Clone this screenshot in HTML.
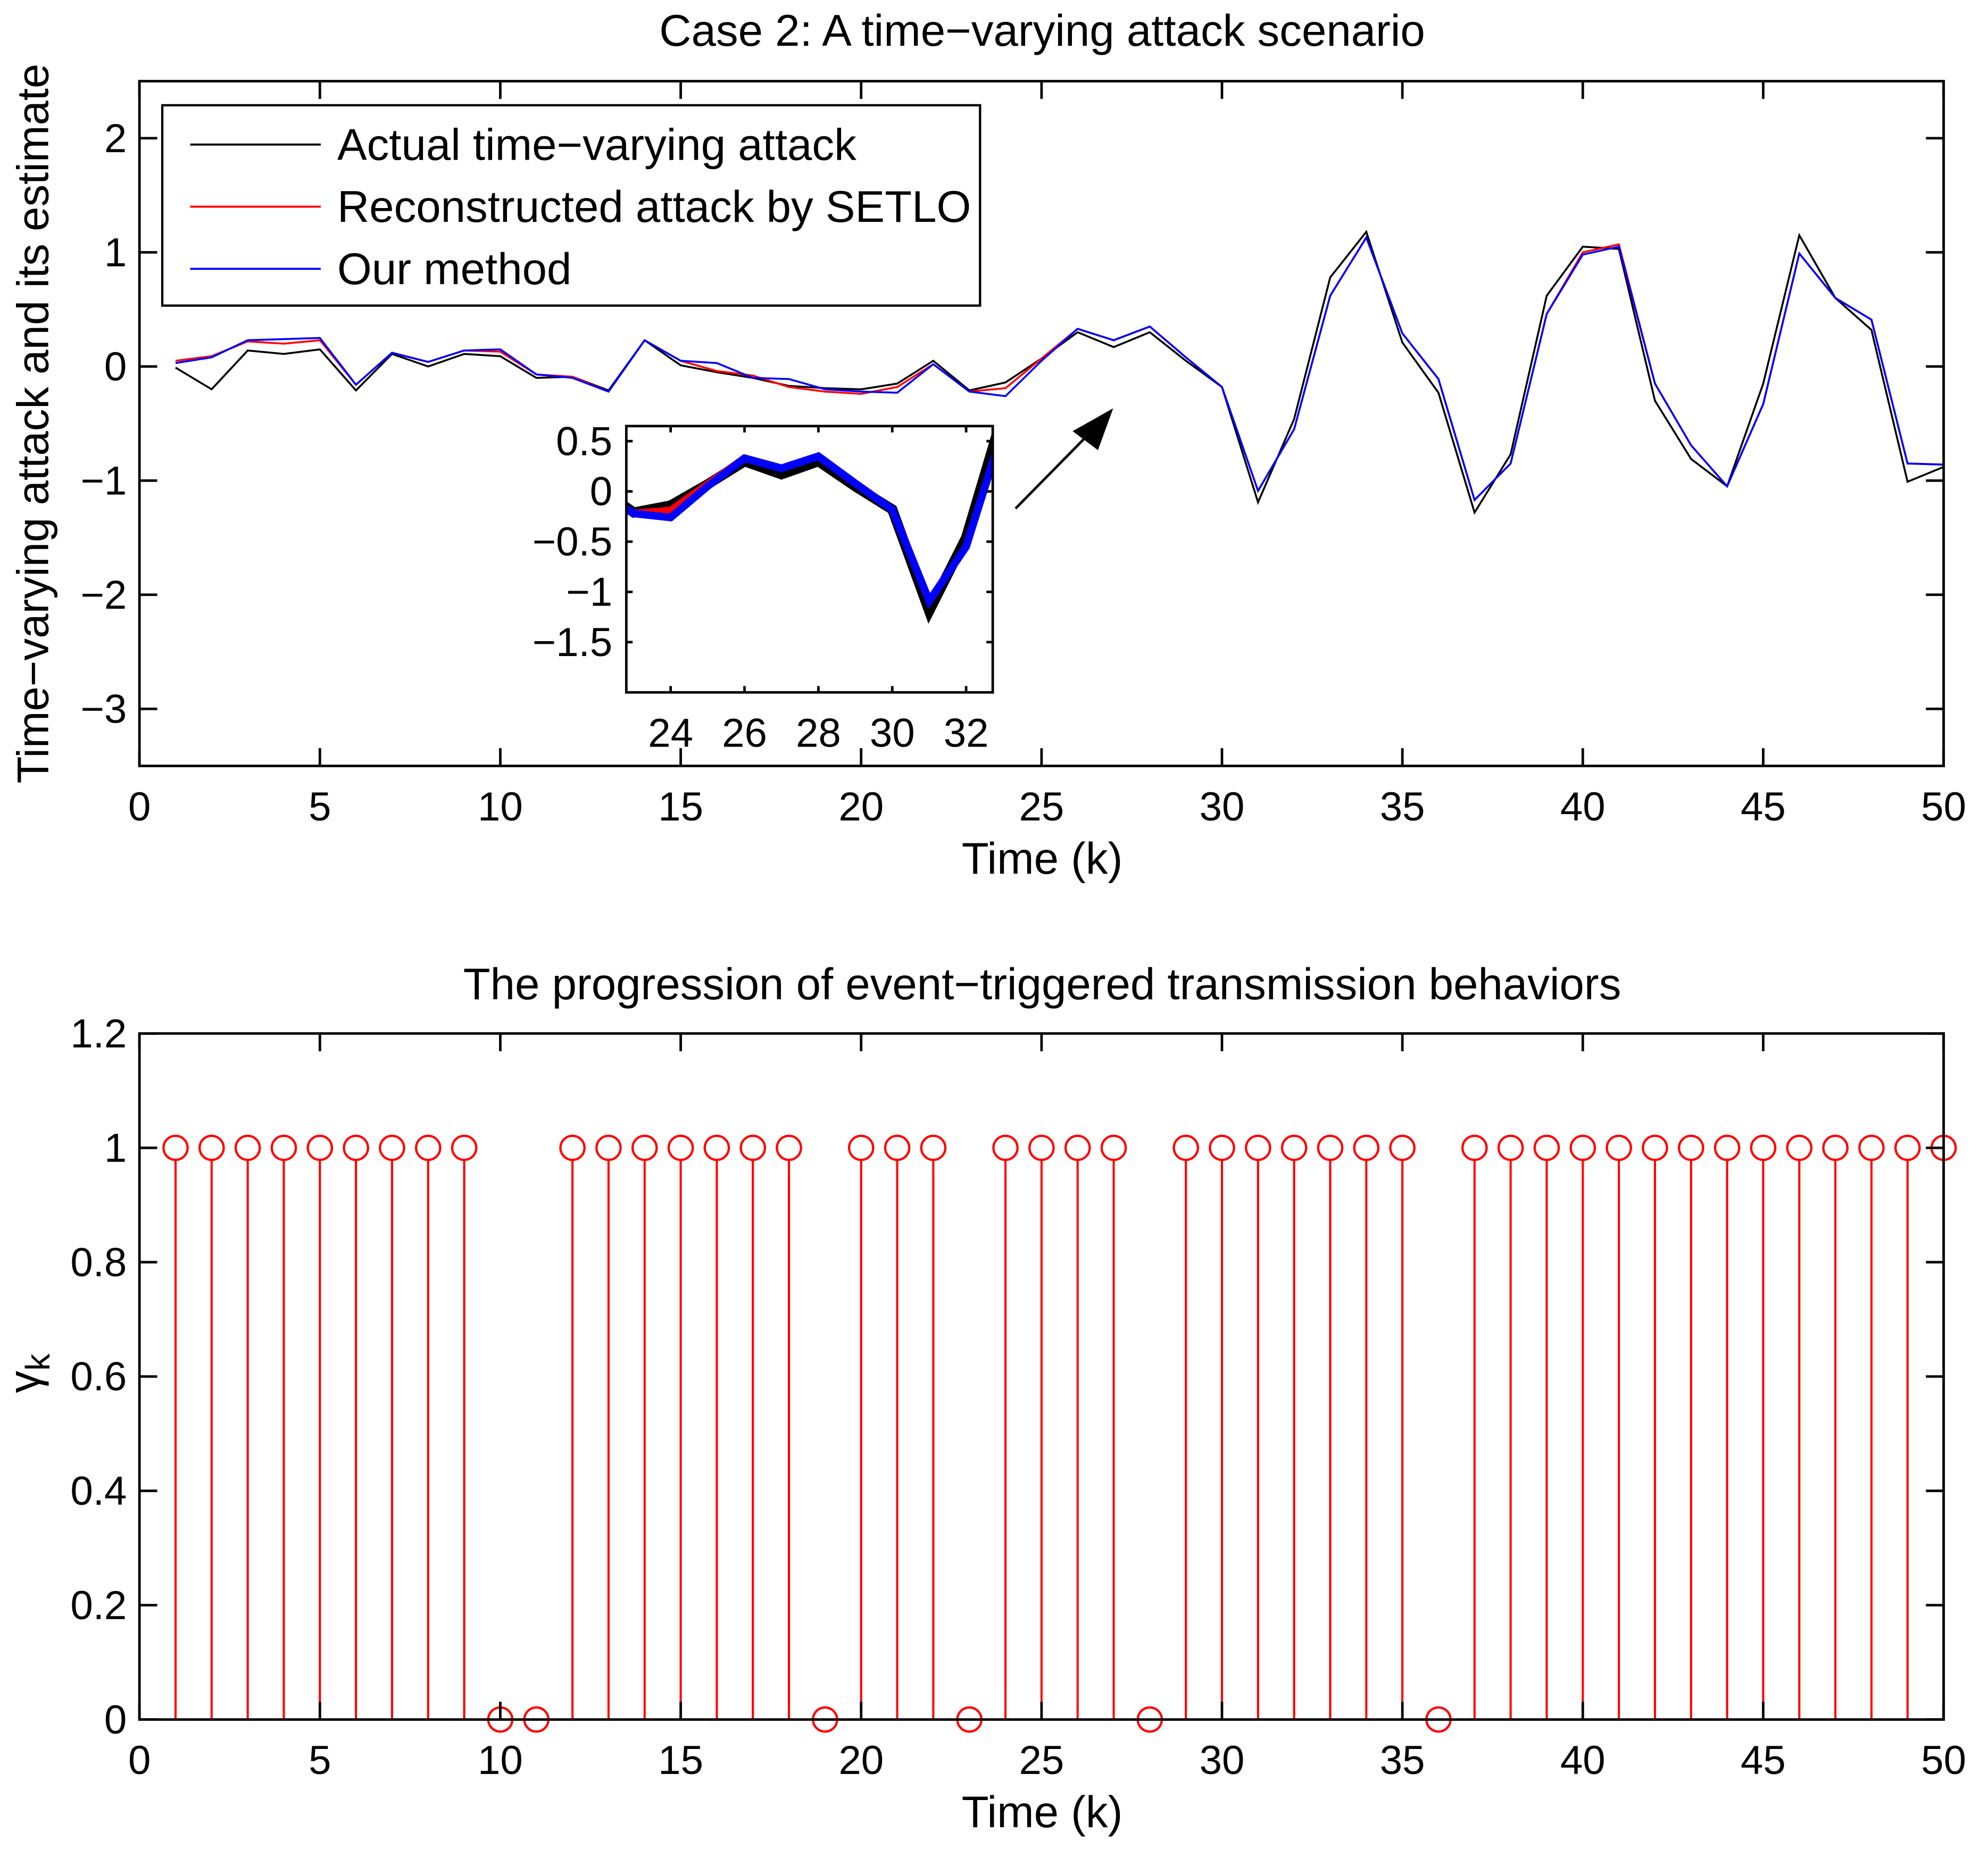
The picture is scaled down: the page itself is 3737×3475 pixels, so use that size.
<!DOCTYPE html>
<html><head><meta charset="utf-8"><style>
html,body{margin:0;padding:0;background:#fff;}
svg{display:block;}
text{font-family:"Liberation Sans",Arial,sans-serif;fill:#000;}
</style></head><body>
<svg id="fig" xmlns="http://www.w3.org/2000/svg" width="3737" height="3475" viewBox="0 0 1568 1458.1" preserveAspectRatio="none"></svg>
<script>
const timeSteps = Array.from({length:50},(_,i)=>i+1);
const actualAttack = [-0.01,-0.20,0.14,0.11,0.15,-0.21,0.11,0.00,0.11,0.09,-0.10,-0.09,-0.21,0.23,0.01,-0.05,-0.10,-0.17,-0.19,-0.20,-0.15,0.05,-0.21,-0.14,0.07,0.30,0.17,0.30,0.05,-0.18,-1.19,-0.46,0.78,1.18,0.21,-0.23,-1.28,-0.77,0.62,1.05,1.03,-0.30,-0.81,-1.05,-0.15,1.15,0.60,0.32,-1.01,-0.88];
const setloEstimate = [0.05,0.09,0.22,0.20,0.23,-0.16,0.12,0.04,0.14,0.13,-0.07,-0.09,-0.22,0.23,0.05,-0.04,-0.08,-0.18,-0.22,-0.24,-0.18,0.02,-0.22,-0.19,0.07,0.33,0.23,0.35,0.08,-0.18,-1.09,-0.55,0.62,1.13,0.29,-0.11,-1.17,-0.85,0.46,1.00,1.07,-0.15,-0.69,-1.05,-0.33,0.99,0.60,0.41,-0.85,-0.86];
const ourEstimate = [0.03,0.08,0.23,0.24,0.25,-0.16,0.12,0.04,0.14,0.15,-0.07,-0.10,-0.22,0.23,0.05,0.03,-0.10,-0.11,-0.20,-0.22,-0.23,0.02,-0.22,-0.26,0.05,0.33,0.23,0.35,0.08,-0.18,-1.09,-0.55,0.62,1.13,0.29,-0.11,-1.17,-0.85,0.46,0.98,1.05,-0.15,-0.69,-1.05,-0.33,0.99,0.60,0.41,-0.85,-0.86];
const gamma = [1,1,1,1,1,1,1,1,1,0,0,1,1,1,1,1,1,1,0,1,1,1,0,1,1,1,1,0,1,1,1,1,1,1,1,0,1,1,1,1,1,1,1,1,1,1,1,1,1,1];
const xTicks = [0,5,10,15,20,25,30,35,40,45,50];
const yTicksTop = [-3,-2,-1,0,1,2];
const yTicksBot = [0,0.2,0.4,0.6,0.8,1,1.2];
const yTickLabelsBot = ["0","0.2","0.4","0.6","0.8","1","1.2"];
const insetXTicks = [24,26,28,30,32];
const insetYTicks = [0.5,0,-0.5,-1,-1.5];
const insetYLabels = ["0.5","0","\u22120.5","\u22121","\u22121.5"];

const NS="http://www.w3.org/2000/svg";
const svg=document.getElementById('fig');
function mk(tag,attrs,parent){const e=document.createElementNS(NS,tag);for(const k in attrs)e.setAttribute(k,attrs[k]);(parent||svg).appendChild(e);return e;}
function txt(s,x,y,size,anchor,parent){const t=mk('text',{x:x,y:y,'font-size':size,'text-anchor':anchor||'middle'},parent);t.textContent=s;return t;}
function fmt(v){return v<0?'\u2212'+Math.abs(v):String(v);}
const TS=32, AS=35;

// ---------- top axes ----------
const T={l:110,r:1533,t:64,b:604,x0:0,x1:50,y0:-3.5,y1:2.5};
const bx=v=>T.l+(v-T.x0)/(T.x1-T.x0)*(T.r-T.l);
const by=v=>T.b-(v-T.y0)/(T.y1-T.y0)*(T.b-T.t);
let e;
e=txt('Case 2: A time\u2212varying attack scenario',822,36,AS);


const gTop=mk('g',{});


function series(vals,color,w,name,parent,xf,yf){
  const pts=vals.map((v,i)=>xf(timeSteps[i]).toFixed(2)+','+yf(v).toFixed(2)).join(' ');
  const p=mk('polyline',{points:pts,fill:'none',stroke:color,'stroke-width':w,'stroke-linejoin':'miter'},parent);
  
  
  return p;
}
series(actualAttack,'#000',1.5,'actual-attack-line',gTop,bx,by);
series(setloEstimate,'#f00',1.5,'setlo-estimate-line',gTop,bx,by);
series(ourEstimate,'#00f',1.5,'our-method-line',gTop,bx,by);
mk('rect',{x:T.l,y:T.t,width:T.r-T.l,height:T.b-T.t,fill:'none',stroke:'#000','stroke-width':2});
xTicks.forEach(v=>{const x=bx(v);
  mk('line',{x1:x,y1:T.b,x2:x,y2:T.b-14,stroke:'#000','stroke-width':2});
  mk('line',{x1:x,y1:T.t,x2:x,y2:T.t+14,stroke:'#000','stroke-width':2});
  const t=txt(String(v),x,647,TS);
  
  
});
yTicksTop.forEach(v=>{const y=by(v);
  mk('line',{x1:T.l,y1:y,x2:T.l+14,y2:y,stroke:'#000','stroke-width':2});
  mk('line',{x1:T.r,y1:y,x2:T.r-14,y2:y,stroke:'#000','stroke-width':2});
  const t=txt(fmt(v),100,y+11,TS,'end');
  
  
});
e=txt('Time (k)',822,689,AS);


e=txt('Time\u2212varying attack and its estimate',0,0,AS);
e.setAttribute('transform','translate(38,334) rotate(-90)');



// legend
const leg=mk('g',{});


mk('rect',{x:128,y:83,width:645,height:158,fill:'#fff',stroke:'#000','stroke-width':1.8},leg);
[['Actual time\u2212varying attack','#000',114],['Reconstructed attack by SETLO','#f00',163],['Our method','#00f',212]].forEach((d,i)=>{
  const g=mk('g',{},leg);
  
  
  mk('line',{x1:150,y1:d[2],x2:253,y2:d[2],stroke:d[1],'stroke-width':1.6},g);
  txt(d[0],266,d[2]+12,AS,'start',g);
});

// arrow
const ar=mk('g',{});


mk('line',{x1:801,y1:401,x2:862,y2:339,stroke:'#000','stroke-width':2},ar);
mk('polygon',{points:'878,322 846,340 866,355',fill:'#000'},ar);

// inset
const I={l:494,r:783,t:336,b:546,x0:22.8,x1:32.72,y0:-2.0,y1:0.65};
const ix=v=>I.l+(v-I.x0)/(I.x1-I.x0)*(I.r-I.l);
const iy=v=>I.b-(v-I.y0)/(I.y1-I.y0)*(I.b-I.t);
const gIn=mk('g',{});


mk('rect',{x:I.l,y:I.t,width:I.r-I.l,height:I.b-I.t,fill:'#fff'},gIn);
const defs=mk('defs',{});
const cp=mk('clipPath',{id:'ic'},defs);
mk('rect',{x:I.l,y:I.t,width:I.r-I.l,height:I.b-I.t},cp);
const gInL=mk('g',{'clip-path':'url(#ic)'},gIn);
series(actualAttack,'#000',8,'inset-actual-line',gInL,ix,iy);
series(setloEstimate,'#f00',6,'inset-setlo-line',gInL,ix,iy);
series(ourEstimate,'#00f',6,'inset-our-method-line',gInL,ix,iy);
mk('rect',{x:I.l,y:I.t,width:I.r-I.l,height:I.b-I.t,fill:'none',stroke:'#000','stroke-width':2},gIn);
insetXTicks.forEach(v=>{const x=ix(v);
  mk('line',{x1:x,y1:I.b,x2:x,y2:I.b-5,stroke:'#000','stroke-width':2},gIn);
  mk('line',{x1:x,y1:I.t,x2:x,y2:I.t+5,stroke:'#000','stroke-width':2},gIn);
  const t=txt(String(v),x,589,TS,'middle',gIn);
  
  
});
insetYTicks.forEach((v,i)=>{const y=iy(v);
  mk('line',{x1:I.l,y1:y,x2:I.l+5,y2:y,stroke:'#000','stroke-width':2},gIn);
  mk('line',{x1:I.r,y1:y,x2:I.r-5,y2:y,stroke:'#000','stroke-width':2},gIn);
  const t=txt(insetYLabels[i],483,y+11,TS,'end',gIn);
  
  
});

// ---------- bottom axes ----------
const B={l:110,r:1533,t:815,b:1356,x0:0,x1:50,y0:0,y1:1.2};
const sx=v=>B.l+(v-B.x0)/(B.x1-B.x0)*(B.r-B.l);
const sy=v=>B.b-(v-B.y0)/(B.y1-B.y0)*(B.b-B.t);
e=txt('The progression of event\u2212triggered transmission behaviors',822,788,AS);


const gBot=mk('g',{});


timeSteps.forEach((k,i)=>{
  const g=mk('g',{},gBot);
  
  
  const x=sx(k),y=sy(gamma[i]);
  if(gamma[i]!==0) mk('line',{x1:x,y1:sy(0),x2:x,y2:y+9,stroke:'#f00','stroke-width':1.7},g);
  mk('circle',{cx:x,cy:y,r:9.5,fill:'none',stroke:'#f00','stroke-width':1.8},g);
});
mk('rect',{x:B.l,y:B.t,width:B.r-B.l,height:B.b-B.t,fill:'none',stroke:'#000','stroke-width':2});
xTicks.forEach(v=>{const x=sx(v);
  mk('line',{x1:x,y1:B.b,x2:x,y2:B.b-14,stroke:'#000','stroke-width':2});
  mk('line',{x1:x,y1:B.t,x2:x,y2:B.t+14,stroke:'#000','stroke-width':2});
  const t=txt(String(v),x,1399,TS);
  
  
});
yTicksBot.forEach((v,i)=>{const y=sy(v);
  mk('line',{x1:B.l,y1:y,x2:B.l+14,y2:y,stroke:'#000','stroke-width':2});
  mk('line',{x1:B.r,y1:y,x2:B.r-14,y2:y,stroke:'#000','stroke-width':2});
  const t=txt(yTickLabelsBot[i],100,y+11,TS,'end');
  
  
});
e=txt('Time (k)',822,1441,AS);


const yl=mk('text',{x:0,y:0,'font-size':AS,'text-anchor':'middle',transform:'translate(31,1083) rotate(-90)'});


const t1=mk('tspan',{},yl);t1.textContent='\u03b3';
const t2=mk('tspan',{dy:8,'font-size':27},yl);t2.textContent='k';
</script>
</body></html>
